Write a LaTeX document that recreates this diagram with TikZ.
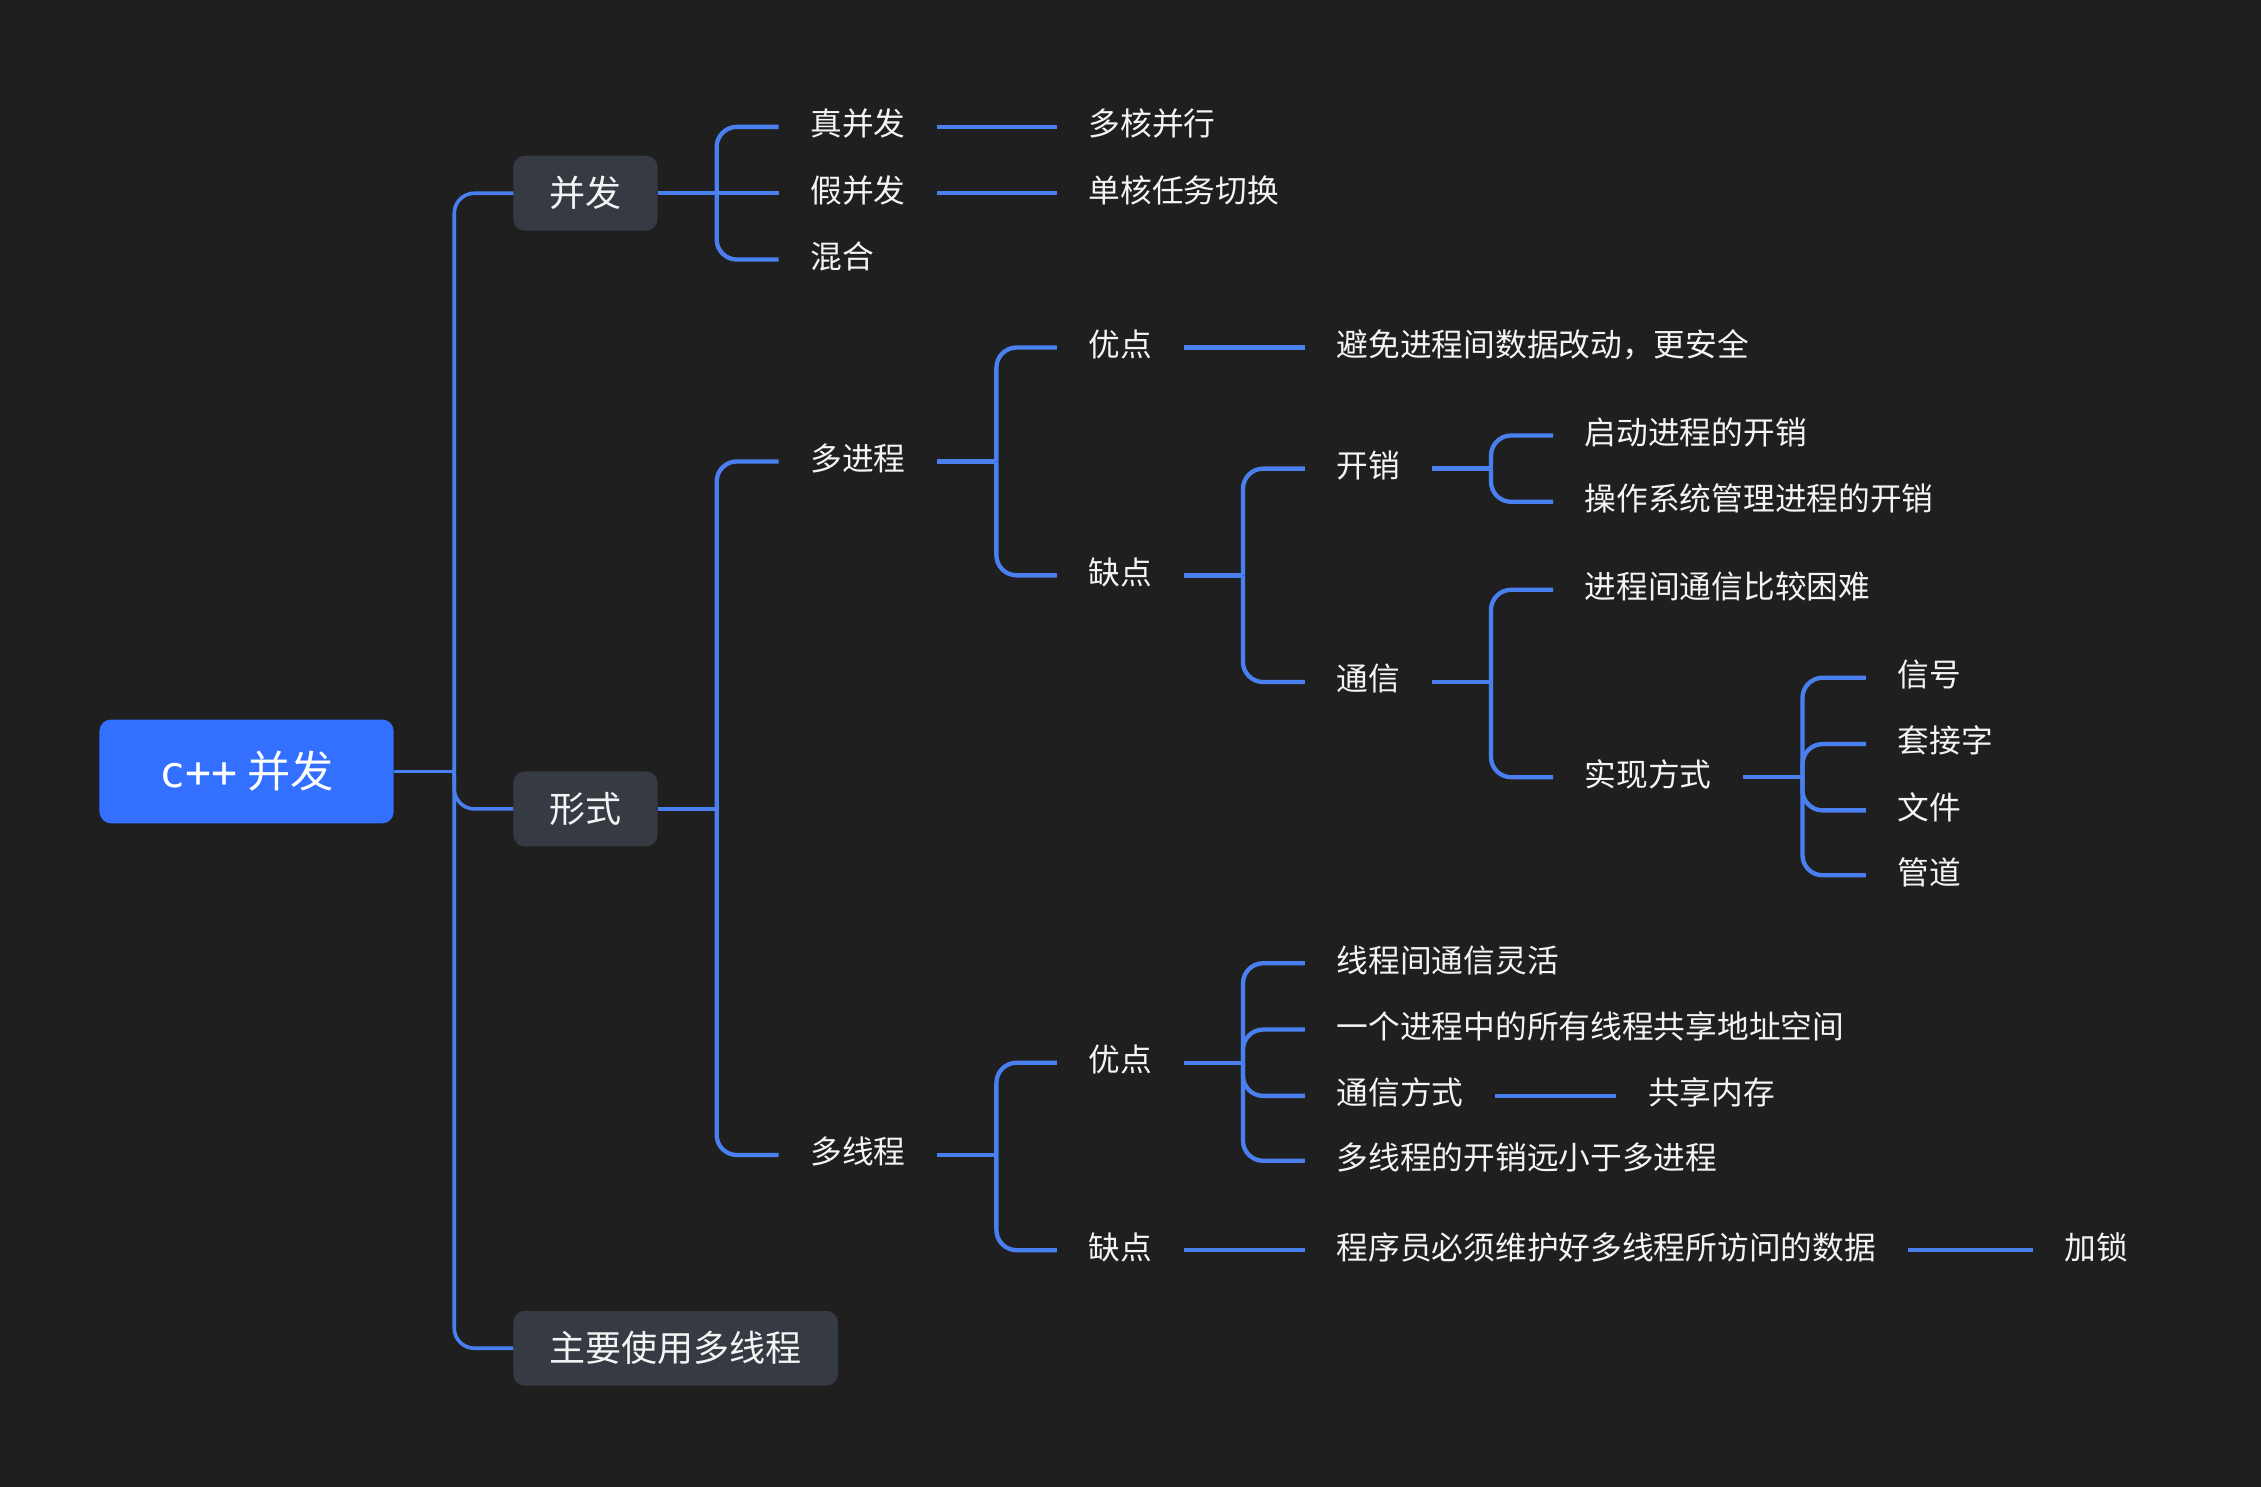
\documentclass[tikz,border=0pt]{standalone}
\usepackage{fontspec}
\setmainfont{Noto Sans CJK SC}
\newfontfamily\cjk{Noto Sans CJK SC}
\newfontfamily\monof{DejaVu Sans Mono}
\definecolor{bgc}{HTML}{1F1F1F}
\definecolor{linec}{HTML}{4A7FEF}
\definecolor{rootc}{HTML}{3370FF}
\definecolor{boxc}{HTML}{363A42}
\definecolor{txtc}{HTML}{F4F4F4}
\tikzset{
  conn/.style={draw=linec, line width=1.5pt},
  trunk/.style={draw=linec, line width=1.25pt},
  brc/.style={rounded corners=7pt},
  txt/.style={anchor=west, inner xsep=11pt, inner ysep=0pt, outer sep=0pt, text=txtc,
    font=\cjk\fontsize{11pt}{13pt}\selectfont, text height=8.8pt, text depth=2.6pt},
  bx/.style={fill=boxc, rounded corners=4pt, inner sep=0pt, outer sep=0pt, minimum height=26pt,
    text=txtc, font=\cjk\fontsize{12.5pt}{15pt}\selectfont},
  rootbox/.style={fill=rootc, rounded corners=4pt, inner sep=0pt, outer sep=0pt,
    minimum width=102pt, minimum height=36pt, text=white, font=\cjk\fontsize{15pt}{18pt}\selectfont}
}
\begin{document}
\begin{tikzpicture}[x=0.5pt,y=-0.5pt]
\fill[bgc] (0,0) rectangle (1568,1031);
\useasboundingbox (0,0) rectangle (1568,1031);

% level 0 and 1
\node[rootbox] (root) at (171,535) {{\monof c++} 并发};
\node[bx, minimum width=50pt] (bf) at (406,134) {并发};
\node[bx, minimum width=50pt] (xs) at (406,561) {形式};
\node[bx, minimum width=112.5pt] (zy) at (468.5,935) {主要使用多线程};

% under 并发
\node[txt] (a1) at (540,88) {真并发};
\node[txt] (a2) at (540,134) {假并发};
\node[txt] (a3) at (540,180) {混合};
\node[txt] (a1r) at (733,88) {多核并行};
\node[txt] (a2r) at (733,134) {单核任务切换};

% under 形式
\node[txt] (b1) at (540,320) {多进程};
\node[txt] (b2) at (540,801) {多线程};

% 多进程
\node[txt] (c1) at (733,241) {优点};
\node[txt] (c2) at (733,399) {缺点};
\node[txt] (c1r) at (905,241) {避免进程间数据改动，更安全};
\node[txt] (d1) at (905,325) {开销};
\node[txt] (d2) at (905,473) {通信};
\node[txt] (e1) at (1077,302) {启动进程的开销};
\node[txt] (e2) at (1077,348) {操作系统管理进程的开销};
\node[txt] (e3) at (1077,409) {进程间通信比较困难};
\node[txt] (e4) at (1077,539) {实现方式};
\node[txt] (f1) at (1294,470) {信号};
\node[txt] (f2) at (1294,516) {套接字};
\node[txt] (f3) at (1294,562) {文件};
\node[txt] (f4) at (1294,607) {管道};

% 多线程
\node[txt] (g1) at (733,737) {优点};
\node[txt] (g2) at (733,867) {缺点};
\node[txt] (h1) at (905,668) {线程间通信灵活};
\node[txt] (h2) at (905,714) {一个进程中的所有线程共享地址空间};
\node[txt] (h3) at (905,760) {通信方式};
\node[txt] (h4) at (905,805) {多线程的开销远小于多进程};
\node[txt] (h3r) at (1121,760) {共享内存};
\node[txt] (g2r) at (905,867) {程序员必须维护好多线程所访问的数据};
\node[txt] (g2rr) at (1410,867) {加锁};

% junctions
\coordinate (j0) at ([xshift=21pt]root.east);
\coordinate (jbf) at ([xshift=20.5pt]bf.east);
\coordinate (jxs) at ([xshift=20.5pt]xs.east);
\coordinate (jb1) at ([xshift=20.5pt]b1.east);
\coordinate (jc2) at ([xshift=20.5pt]c2.east);
\coordinate (jd1) at ([xshift=20.5pt]d1.east);
\coordinate (jd2) at ([xshift=20.5pt]d2.east);
\coordinate (je4) at ([xshift=20.5pt]e4.east);
\coordinate (jb2) at ([xshift=20.5pt]b2.east);
\coordinate (jg1) at ([xshift=20.5pt]g1.east);

% root trunk
\draw[trunk] (root.east) -- (j0);
\draw[trunk,brc] (j0) |- (bf.west);
\draw[trunk,brc] (j0) |- (xs.west);
\draw[trunk,brc] (j0) |- (zy.west);

% 并发
\draw[conn] (bf.east) -- (jbf);
\draw[conn,brc] (jbf) |- (a1.west);
\draw[conn] (jbf) -- (a2.west);
\draw[conn,brc] (jbf) |- (a3.west);
\draw[conn] (a1.east) -- (a1r.west);
\draw[conn] (a2.east) -- (a2r.west);

% 形式
\draw[conn] (xs.east) -- (jxs);
\draw[conn,brc] (jxs) |- (b1.west);
\draw[conn,brc] (jxs) |- (b2.west);

% 多进程
\draw[conn] (b1.east) -- (jb1);
\draw[conn,brc] (jb1) |- (c1.west);
\draw[conn,brc] (jb1) |- (c2.west);
\draw[conn] (c1.east) -- (c1r.west);
\draw[conn] (c2.east) -- (jc2);
\draw[conn,brc] (jc2) |- (d1.west);
\draw[conn,brc] (jc2) |- (d2.west);
\draw[conn] (d1.east) -- (jd1);
\draw[conn,brc] (jd1) |- (e1.west);
\draw[conn,brc] (jd1) |- (e2.west);
\draw[conn] (d2.east) -- (jd2);
\draw[conn,brc] (jd2) |- (e3.west);
\draw[conn,brc] (jd2) |- (e4.west);
\draw[conn] (e4.east) -- (je4);
\draw[conn,brc] (je4) |- (f1.west);
\draw[conn,brc] (je4) |- (f2.west);
\draw[conn,brc] (je4) |- (f3.west);
\draw[conn,brc] (je4) |- (f4.west);

% 多线程
\draw[conn] (b2.east) -- (jb2);
\draw[conn,brc] (jb2) |- (g1.west);
\draw[conn,brc] (jb2) |- (g2.west);
\draw[conn] (g1.east) -- (jg1);
\draw[conn,brc] (jg1) |- (h1.west);
\draw[conn,brc] (jg1) |- (h2.west);
\draw[conn,brc] (jg1) |- (h3.west);
\draw[conn,brc] (jg1) |- (h4.west);
\draw[conn] (h3.east) -- (h3r.west);
\draw[conn] (g2.east) -- (g2r.west);
\draw[conn] (g2r.east) -- (g2rr.west);
\end{tikzpicture}
\end{document}
